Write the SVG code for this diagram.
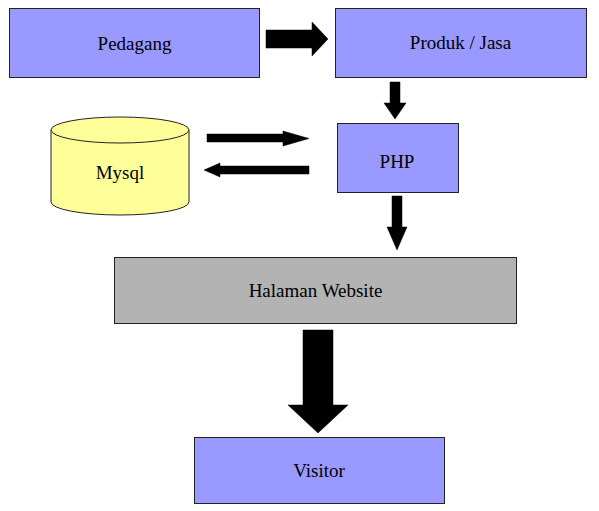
<svg xmlns="http://www.w3.org/2000/svg" width="599" height="511" viewBox="0 0 599 511">
<style>
.box{fill:#9999ff;stroke:#222;stroke-width:1}
.grey{fill:#b3b3b3;stroke:#222;stroke-width:1}
.db{fill:#ffff99;stroke:#222;stroke-width:1}
.lbl{font-family:"Liberation Serif","Times New Roman",serif;font-size:19px;fill:#000;text-anchor:middle}
.arr{fill:#000;stroke:#000;stroke-width:0.5}
</style>
<rect width="599" height="511" fill="#fff"/>
<g id="pedagang"><rect class="box" x="9.5" y="8.5" width="250" height="69"/><text class="lbl" x="134.5" y="50">Pedagang</text></g>
<g id="produk"><rect class="box" x="335.5" y="8.5" width="251" height="69"/><text class="lbl" x="460.5" y="49">Produk / Jasa</text></g>
<g id="php"><rect class="box" x="337.5" y="123.5" width="121" height="69"/><text class="lbl" x="397" y="168">PHP</text></g>
<g id="mysql">
<path class="db" d="M51,130 V202 A69,13 0 0 0 189,202 V130"/>
<ellipse class="db" cx="120" cy="130" rx="69" ry="13"/>
<text class="lbl" x="120" y="179">Mysql</text>
</g>
<g id="halaman"><rect class="grey" x="114.5" y="257.5" width="402" height="66"/><text class="lbl" x="315.5" y="297">Halaman Website</text></g>
<g id="visitor"><rect class="box" x="194.5" y="437.5" width="250" height="66"/><text class="lbl" x="319" y="477">Visitor</text></g>
<g id="connectors">
<polygon class="arr" points="266,30 312,30 312,22 328,39 312,56 312,48 266,48"/>
<polygon class="arr" points="390,82 400,82 400,103 406,103 395,119 384,103 390,103"/>
<polygon class="arr" points="392,196 402,196 402,227 407,227 397,250 387,227 392,227"/>
<polygon class="arr" points="207,134 283,134 283,131 309,138.5 283,146 283,142 207,142"/>
<polygon class="arr" points="309,166 220,166 220,163 204,170 220,177 220,174 309,174"/>
<polygon class="arr" points="303,330 333,330 333,405 348,405 318,433 288,405 303,405"/>
</g>
</svg>
